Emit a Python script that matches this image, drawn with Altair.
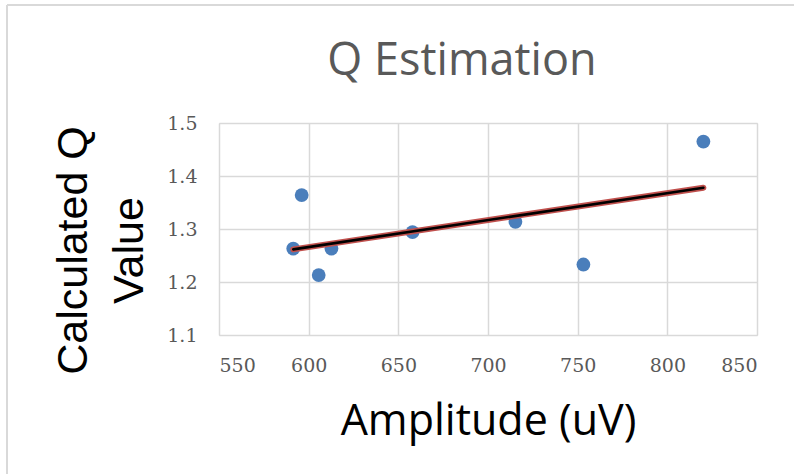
import altair as alt
import pandas as pd

# Measured amplitude and the Q value calculated for each trial
amplitude_uv = [591.4, 596.1, 605.6, 612.7, 657.9, 715.3, 753.2, 820.1]
q_value = [1.263, 1.364, 1.213, 1.263, 1.294, 1.3135, 1.233, 1.465]

x_ticks = [550, 600, 650, 700, 750, 800, 850]
y_ticks = [1.1, 1.2, 1.3, 1.4, 1.5]

chart_title = ["Q Estimation"]

df = pd.DataFrame({"amplitude": amplitude_uv, "q": q_value})
title_df = pd.DataFrame({"label": chart_title})

grid = "#D9D9D9"
label_gray = "#595959"

x_enc = alt.X(
    "amplitude:Q",
    scale=alt.Scale(domain=[550, 850], nice=False, zero=False),
    axis=alt.Axis(
        values=x_ticks, title="Amplitude (uV)", titleFont="Open Sans",
        titleFontSize=43, titleFontWeight="normal", titleColor="black",
        titleBaseline="alphabetic", titleY=99,
        labelFont="DejaVu Serif", labelFontSize=19,
        labelColor=label_gray, labelPadding=21, domain=False, ticks=False,
        gridColor=grid, gridWidth=1.5,
    ),
)
y_enc = alt.Y(
    "q:Q",
    scale=alt.Scale(domain=[1.1, 1.5], nice=False, zero=False),
    axis=alt.Axis(
        values=y_ticks, format=".1f", title=["Calculated Q", "Value"],
        titleFont="Liberation Sans", titleFontSize=43, titleFontWeight="normal",
        titleColor="black", titleLineHeight=56, titleBaseline="alphabetic",
        titleX=-133, titleY=127, titleAlign="center", titleAngle=270,
        labelFont="DejaVu Serif", labelFontSize=19, labelColor=label_gray,
        labelPadding=22, domain=False, ticks=False, gridColor=grid, gridWidth=1.5,
    ),
)

base = alt.Chart(df)

points = base.mark_circle(size=190, opacity=1, color="#4A7EBB").encode(x=x_enc, y=y_enc)

# Linear trendline: red outline under a black core
fit = base.transform_regression("amplitude", "q", method="linear")
trend_outline = fit.mark_line(color="#C0504D", strokeWidth=6, strokeCap="round").encode(x=x_enc, y=y_enc)
trend_core = fit.mark_line(color="black", strokeWidth=2.6, strokeCap="round").encode(x=x_enc, y=y_enc)

# Chart heading, centred above the plot
heading = alt.Chart(title_df).mark_text(
    font="Open Sans", fontSize=45, color=label_gray, align="center", baseline="alphabetic"
).encode(text="label:N", x=alt.value(243), y=alt.value(-48))

# Chart area frame (top and left edges)
frame_top = base.mark_rule(color=grid, strokeWidth=2).encode(
    x=alt.value(-212), x2=alt.value(600), y=alt.value(-118)
)
frame_left = base.mark_rule(color=grid, strokeWidth=2).encode(
    x=alt.value(-212), y=alt.value(-118), y2=alt.value(400)
)

chart = (
    alt.layer(frame_top, frame_left, heading, points, trend_outline, trend_core)
    .properties(
        width=538,
        height=212,
        autosize=alt.AutoSizeParams(type="none"),
        padding={"left": 219, "top": 123, "right": 37, "bottom": 139},
    )
    .configure_view(stroke=grid, strokeWidth=1.5)
    .configure(background="white")
)

chart.save("out.html", embed_options={"renderer": "svg", "actions": False})
